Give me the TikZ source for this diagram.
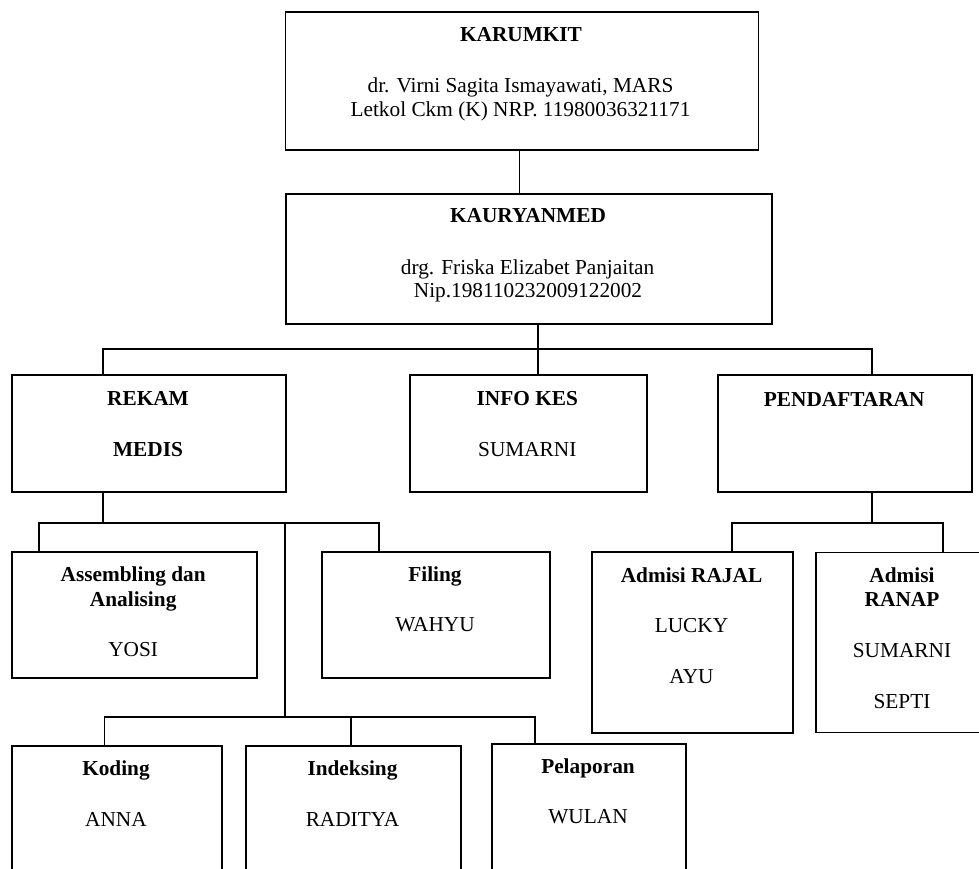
\documentclass[tikz,border=0pt]{standalone}
\usepackage{fontspec}
\setmainfont{Liberation Serif}
\begin{document}
\begin{tikzpicture}[x=1pt,y=-1pt,
  box/.style={draw,line width=1.8pt,inner sep=0pt,anchor=north west},
  txt/.style={anchor=base,inner sep=0pt,font=\fontsize{21.3}{25}\selectfont},
  hd/.style={txt,font=\fontsize{21.3}{25}\selectfont\bfseries},
  link/.style={line width=1.8pt}]
\useasboundingbox (0,0) rectangle (979,868);
\clip (0,0) rectangle (979,868);

% --- boxes ---
\node[box,minimum width=473pt,minimum height=138pt]   (karumkit) at (284.5,10.7) {};
\node[box,minimum width=486.2pt,minimum height=130pt] (kaury)    at (285,192.7) {};
\node[box,minimum width=274.6pt,minimum height=116.7pt] (rekam)  at (10.7,374.3) {};
\node[box,minimum width=236.7pt,minimum height=116.7pt] (info)   at (409,374.3) {};
\node[box,minimum width=254.3pt,minimum height=116.7pt] (pendaf) at (717,374.3) {};
\node[box,minimum width=245pt,minimum height=126pt]   (assem)    at (10.7,551) {};
\node[box,minimum width=228.6pt,minimum height=126pt] (filing)   at (320.7,551) {};
\node[box,minimum width=201pt,minimum height=180.7pt] (rajal)    at (591,551) {};
\node[box,minimum width=174pt,minimum height=180pt]   (ranap)    at (815,551.5) {};
\node[box,minimum width=210pt,minimum height=150pt]   (koding)   at (11,745) {};
\node[box,minimum width=215pt,minimum height=150pt]   (indeks)   at (245,745) {};
\node[box,minimum width=194pt,minimum height=150pt]   (pelap)    at (491,743) {};

% --- texts ---
\node[hd]  (t1a) at (521,41.5)   {KARUMKIT};
\node[txt] (t1b) at (520.5,92)   {dr. Virni Sagita Ismayawati, MARS};
\node[txt] (t1c) at (520.5,116.7) {Letkol Ckm (K) NRP. 11980036321171};

\node[hd]  (t2a) at (528,222.7)  {KAURYANMED};
\node[txt] (t2b) at (527.6,274)  {drg. Friska Elizabet Panjaitan};
\node[txt] (t2c) at (528,297.7)  {Nip.198110232009122002};

\node[hd]  (t3a) at (148,405)    {REKAM};
\node[hd]  (t3b) at (148,456.7)  {MEDIS};

\node[hd]  (t4a) at (527.3,405)  {INFO KES};
\node[txt] (t4b) at (527.3,456)  {SUMARNI};

\node[hd]  (t5a) at (844.2,406)  {PENDAFTARAN};

\node[hd]  (t6a) at (133.2,581)  {Assembling dan};
\node[hd]  (t6b) at (133.2,606)  {Analising};
\node[txt] (t6c) at (133.2,656.7) {YOSI};

\node[hd]  (t7a) at (435,581)    {Filing};
\node[txt] (t7b) at (435,631.7)  {WAHYU};

\node[hd]  (t8a) at (691.5,582.7) {Admisi RAJAL};
\node[txt] (t8b) at (691.5,632.7) {LUCKY};
\node[txt] (t8c) at (691.5,683.3) {AYU};

\node[hd]  (t9a) at (902,582.7)  {Admisi};
\node[hd]  (t9b) at (902,606.7)  {RANAP};
\node[txt] (t9c) at (902,657.7)  {SUMARNI};
\node[txt] (t9d) at (902,708.3)  {SEPTI};

\node[hd]  (t10a) at (116,775)   {Koding};
\node[txt] (t10b) at (116,826)   {ANNA};

\node[hd]  (t11a) at (352.5,775) {Indeksing};
\node[txt] (t11b) at (352.5,826) {RADITYA};

\node[hd]  (t12a) at (588,773.3) {Pelaporan};
\node[txt] (t12b) at (588,823.3) {WULAN};

% --- junction points ---
\coordinate (j0)   at (519.4,170);
\coordinate (busL) at (102.7,349);
\coordinate (busM) at (537.6,349);
\coordinate (busR) at (871.7,349);
\coordinate (rm1)  at (102.7,523);
\coordinate (rsL)  at (38.6,523);
\coordinate (rsM)  at (285,523);
\coordinate (rsR)  at (378.6,523);
\coordinate (lbL)  at (104.5,717);
\coordinate (lbM)  at (285,717);
\coordinate (lbI)  at (351,717);
\coordinate (lbR)  at (535,717);
\coordinate (pd)   at (871.7,523);
\coordinate (psL)  at (731.7,523);
\coordinate (psR)  at (943,523);

% --- connectors ---
\draw[link] (karumkit.south -| j0) -- (kaury.north -| j0);
\draw[link] (kaury.south -| busM) -- (info.north -| busM);
\draw[link] (rekam.north -| busL) -- (busL) -- (busR) -- (pendaf.north -| busR);

\draw[link] (rekam.south -| rm1) -- (rm1);
\draw[link] (assem.north -| rsL) -- (rsL) -- (rsR) -- (filing.north -| rsR);
\draw[link] (rsM) -- (lbM);
\draw[link] (koding.north -| lbL) -- (lbL) -- (lbR) -- (pelap.north -| lbR);
\draw[link] (lbI) -- (indeks.north -| lbI);

\draw[link] (pendaf.south -| pd) -- (pd);
\draw[link] (rajal.north -| psL) -- (psL) -- (psR) -- (ranap.north -| psR);
\end{tikzpicture}
\end{document}
